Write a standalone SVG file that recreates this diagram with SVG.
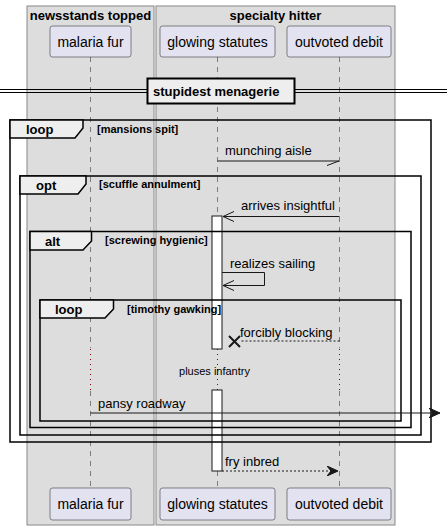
<svg xmlns="http://www.w3.org/2000/svg" width="447" height="530" viewBox="0 0 447 530">
<defs>
<style>
.box{fill:#DDDDDD;stroke:#888888;stroke-width:1}
.btitle{font-family:"Liberation Sans",Arial,sans-serif;font-size:13px;font-weight:bold;fill:#000;text-anchor:middle}
.part rect{fill:#E2E2F0;stroke:#181818;stroke-width:0.5}
.part text{font-family:"Liberation Sans",Arial,sans-serif;font-size:14px;fill:#000;text-anchor:middle}
.life{stroke:#181818;stroke-width:0.5;stroke-dasharray:5,5;fill:none}
.delay{stroke:#8B0000;stroke-width:1;stroke-dasharray:1,4;fill:none}
.frame{fill:none;stroke:#000;stroke-width:1.5}
.tab{fill:#EEEEEE;stroke:#000;stroke-width:1.5}
.ftxt{font-family:"Liberation Sans",Arial,sans-serif;font-size:13px;font-weight:bold;fill:#000}
.cond{font-family:"Liberation Sans",Arial,sans-serif;font-size:11px;font-weight:bold;fill:#000}
.msg{font-family:"Liberation Sans",Arial,sans-serif;font-size:13px;fill:#000}
.act{fill:#FFFFFF;stroke:#181818;stroke-width:1}
.line{stroke:#181818;stroke-width:1;fill:none}
.dash{stroke:#181818;stroke-width:1;fill:none;stroke-dasharray:2,2}
</style>
<marker id="filled" markerWidth="12" markerHeight="10" refX="11" refY="5" orient="auto" markerUnits="userSpaceOnUse">
<path d="M0,0 L11,5 L0,10 L4,5 Z" fill="#181818" stroke="#181818" stroke-width="1"/>
</marker>
</defs>

<g id="box-newsstands-topped">
<rect class="box" x="27" y="6" width="127" height="519"/>
<text class="btitle" x="90.5" y="20">newsstands topped</text>
</g>
<g id="box-specialty-hitter">
<rect class="box" x="156" y="6" width="239" height="519"/>
<text class="btitle" x="275.5" y="20">specialty hitter</text>
</g>

<g id="lifelines">
<line class="life" x1="90.5" y1="57" x2="90.5" y2="348"/>
<line class="delay" x1="90.5" y1="349" x2="90.5" y2="390"/>
<line class="life" x1="90.5" y1="391" x2="90.5" y2="488"/>
<line class="life" x1="217.5" y1="57" x2="217.5" y2="348"/>
<line class="delay" x1="217.5" y1="349" x2="217.5" y2="390"/>
<line class="life" x1="217.5" y1="391" x2="217.5" y2="488"/>
<line class="life" x1="339.5" y1="57" x2="339.5" y2="348"/>
<line class="delay" x1="339.5" y1="349" x2="339.5" y2="390"/>
<line class="life" x1="339.5" y1="391" x2="339.5" y2="488"/>
</g>

<g id="p-malaria-fur-top" class="part">
<rect x="50" y="26" width="81" height="31" rx="2.5"/>
<text x="90.5" y="47">malaria fur</text>
</g>
<g id="p-glowing-statutes-top" class="part">
<rect x="160" y="26" width="115" height="31" rx="2.5"/>
<text x="217.5" y="47">glowing statutes</text>
</g>
<g id="p-outvoted-debit-top" class="part">
<rect x="287" y="26" width="104" height="31" rx="2.5"/>
<text x="339" y="47">outvoted debit</text>
</g>
<g id="p-malaria-fur-bottom" class="part">
<rect x="50" y="488" width="81" height="32" rx="2.5"/>
<text x="90.5" y="509">malaria fur</text>
</g>
<g id="p-glowing-statutes-bottom" class="part">
<rect x="160" y="488" width="115" height="32" rx="2.5"/>
<text x="217.5" y="509">glowing statutes</text>
</g>
<g id="p-outvoted-debit-bottom" class="part">
<rect x="287" y="488" width="104" height="32" rx="2.5"/>
<text x="339" y="509">outvoted debit</text>
</g>

<g id="divider">
<line x1="0" y1="89.5" x2="447" y2="89.5" stroke="#000" stroke-width="1"/>
<line x1="0" y1="92.5" x2="447" y2="92.5" stroke="#000" stroke-width="1"/>
<rect x="147.5" y="78.5" width="147" height="25" fill="#EEEEEE" stroke="#000" stroke-width="2"/>
<text class="ftxt" x="153" y="96">stupidest menagerie</text>
</g>

<g id="activations">
<rect class="act" x="212" y="216" width="10" height="133"/>
<rect class="act" x="212" y="390" width="10" height="81"/>
</g>

<g id="frames">
<g id="loop-mansions-spit">
<rect class="frame" x="10" y="120" width="421" height="322"/>
<path class="tab" d="M10,120 H83 V128 L75,138 H10 Z"/>
<text class="ftxt" x="26" y="133.5">loop</text>
<text class="cond" x="97" y="133">[mansions spit]</text>
</g>
<g id="opt-scuffle-annulment">
<rect class="frame" x="20" y="176" width="401" height="259"/>
<path class="tab" d="M20,176 H86 V184 L78,194 H20 Z"/>
<text class="ftxt" x="36" y="190">opt</text>
<text class="cond" x="99" y="188">[scuffle annulment]</text>
</g>
<g id="alt-screwing-hygienic">
<rect class="frame" x="30" y="231.5" width="381" height="196"/>
<path class="tab" d="M30,231.5 H91.5 V241 L83,250 H30 Z"/>
<text class="ftxt" x="45" y="246">alt</text>
<text class="cond" x="105" y="244">[screwing hygienic]</text>
</g>
<g id="loop-timothy-gawking">
<rect class="frame" x="40" y="300" width="361" height="121"/>
<path class="tab" d="M40,300 H113.5 V309 L105,318 H40 Z"/>
<text class="ftxt" x="55" y="314">loop</text>
<text class="cond" x="127" y="313">[timothy gawking]</text>
</g>
</g>

<g id="connectors">
<g id="msg-munching-aisle">
<line class="line" x1="217.5" y1="161" x2="339" y2="161"/>
<line class="line" x1="339" y1="161" x2="327" y2="165.5"/>
<text class="msg" x="225" y="155">munching aisle</text>
</g>
<g id="msg-arrives-insightful">
<line class="line" x1="339.5" y1="216.5" x2="223" y2="216.5"/>
<path class="line" d="M234,211.5 L223,216.5 L234,221.5" stroke-width="1.5"/>
<text class="msg" x="241" y="210">arrives insightful</text>
</g>
<g id="msg-realizes-sailing">
<path class="line" d="M222,272.5 H264.5 V285.5 H223"/>
<path class="line" d="M234,280.5 L223,285.5 L234,290.5" stroke-width="1.5"/>
<text class="msg" x="230" y="268">realizes sailing</text>
</g>
<g id="msg-forcibly-blocking">
<line class="dash" x1="339.5" y1="341" x2="240" y2="341"/>
<path d="M229,336 L240,347 M240,336 L229,347" stroke="#181818" stroke-width="2"/>
<text class="msg" x="240" y="337">forcibly blocking</text>
</g>
<g id="delay-pluses-infantry">
<text x="214.5" y="375" font-family="Liberation Sans, Arial, sans-serif" font-size="11" text-anchor="middle">pluses infantry</text>
</g>
<g id="msg-pansy-roadway">
<line class="line" x1="90.5" y1="413" x2="440" y2="413" marker-end="url(#filled)"/>
<text class="msg" x="98" y="408">pansy roadway</text>
</g>
<g id="msg-fry-inbred">
<line class="dash" x1="222" y1="471" x2="338" y2="471" marker-end="url(#filled)"/>
<text class="msg" x="225" y="466">fry inbred</text>
</g>
</g>
</svg>
